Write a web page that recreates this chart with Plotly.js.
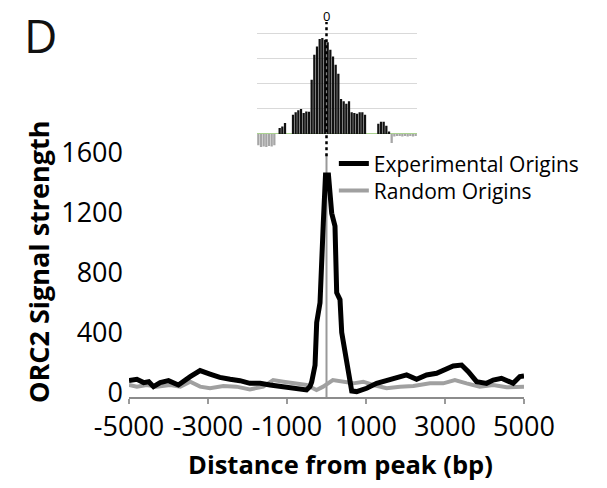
<!DOCTYPE html>
<html><head><meta charset="utf-8">
<script src="https://cdn.plot.ly/plotly-3.0.1.min.js"></script>
<style>body{margin:0;padding:0;background:#fff}#chart{width:607px;height:488px}</style>
</head><body><div id="chart"></div>
<script>
// Main chart: distance from peak (bp) and ORC2 signal
const expX = [-5000,-4800,-4630,-4500,-4380,-4210,-4000,-3750,-3450,-3200,-2950,-2700,-2440,-2190,-1940,-1680,-1430,-1090,-760,-506,-420,-375,-290,-248,-164,-121,-81,-25,50,132,215,258,342,385,511,638,763,1016,1270,1522,1775,2028,2281,2534,2787,3040,3208,3420,3590,3800,4052,4220,4430,4725,4895,5000];
const expY = [110,118,96,102,69,96,109,80,136,176,153,131,118,109,91,91,80,69,51,47,69,100,212,497,629,1007,1159,1480,1480,1225,1139,695,649,430,212,40,36,58,91,109,131,147,118,147,158,185,207,213,169,102,91,113,125,91,136,140];
const rndX = [-5000,-4800,-4550,-4300,-3960,-3700,-3450,-3200,-2950,-2610,-2280,-1940,-1600,-1350,-1090,-760,-506,-253,-85,160,425,680,930,1185,1522,1860,2200,2620,2956,3250,3545,3880,4220,4560,5000];
const rndY = [80,69,80,69,80,69,102,69,58,73,69,51,69,113,102,91,80,47,69,113,102,91,102,80,58,69,73,91,91,113,91,69,80,65,69];
const xTicks = [-5000,-3000,-1000,1000,3000,5000];
const yTicks = [0,400,800,1200,1600];
// Inset bar chart values
const insetVals = [-0.45,-0.52,-0.5,-0.52,-0.48,-0.5,-0.45,0,0.24,0.3,0.44,0,0,0.77,0.87,0.95,1.0,0.84,0.9,0.89,2.17,3.17,3.5,3.8,3.84,3.77,3.67,3.37,3.1,2.77,2.41,1.4,1.31,1.21,1.31,0.87,0.84,0.81,0.87,0.87,0.77,0,0,0,0,0.41,0.49,0.49,0.33,0.1,-0.36,-0.1,-0.08,-0.08,-0.1,-0.08,-0.1,-0.08,-0.1,-0.08];
const insetIdx = insetVals.map((v,i)=>i);
const insetColors = insetVals.map(v => v < 0 ? '#a6a6a6' : '#111111');

const F = '"Open Sans", "Noto Sans", sans-serif';
const traces = [
  {x: rndX, y: rndY, type:'scatter', mode:'lines', name:'Random Origins', legend:'legend2',
   line:{color:'#a0a0a0', width:4}, xaxis:'x', yaxis:'y'},
  {x: expX, y: expY, type:'scatter', mode:'lines', name:'Experimental Origins', legend:'legend',
   line:{color:'#000000', width:5}, xaxis:'x', yaxis:'y'},
  {x: insetIdx, y: insetVals, type:'bar', showlegend:false,
   marker:{color: insetColors, line:{width:0}}, xaxis:'x2', yaxis:'y2', hoverinfo:'skip'}
];
const legStyle = {xanchor:'left', yanchor:'top', bgcolor:'rgba(0,0,0,0)', font:{size:21, family:F}, itemwidth:30};
const layout = {
  width:607, height:488,
  margin:{l:0,r:0,t:0,b:0},
  paper_bgcolor:'#fff', plot_bgcolor:'rgba(0,0,0,0)',
  font:{family:F, color:'#000'},
  showlegend:true,
  legend:Object.assign({x:0.55, y:0.706}, legStyle),
  legend2:Object.assign({x:0.55, y:0.706-27/488}, legStyle),
  xaxis:{domain:[0.21252,0.86326], range:[-5000,5000], tickvals:xTicks, ticktext:xTicks.map(String),
         showgrid:false, zeroline:false, showline:true, linecolor:'#8c8c8c', linewidth:2.5,
         ticks:'outside', ticklen:5, tickwidth:2, tickcolor:'#9a9a9a', tickangle:0,
         tickfont:{size:27, family:F}, anchor:'y', ticklabelstandoff:-1},
  yaxis:{domain:[0.18648,0.68443], range:[0,1620], tickvals:yTicks, ticktext:yTicks.map(String),
         showgrid:false, zeroline:false, showline:false, ticks:'', tickfont:{size:27, family:F},
         anchor:'x', ticklabelstandoff:5, ticklabelshift:-4},
  xaxis2:{domain:[0.4234,0.6870], range:[-0.5,59.5], showticklabels:false, showgrid:false,
          zeroline:false, showline:false, ticks:'', anchor:'y2'},
  yaxis2:{domain:[0.67418,0.98156], range:[-1,5], dtick:1, showticklabels:false, showgrid:true,
          gridcolor:'#d9d9d9', gridwidth:1, zeroline:true, zerolinecolor:'#a9d18e', zerolinewidth:1,
          ticks:'', anchor:'x2'},
  bargap:0.15,
  shapes:[
    {type:'line', xref:'x', yref:'y', x0:0, x1:0, y0:0, y1:1620, line:{color:'#999999', width:2}, layer:'below'},
    {type:'line', xref:'x', yref:'paper', x0:0, x1:0, y0:0.68, y1:0.955, line:{color:'#000', width:2.5, dash:'dot'}}
  ],
  annotations:[
    {text:'D', xref:'paper', yref:'paper', x:22/607, y:1-2/488, xanchor:'left', yanchor:'top', showarrow:false,
     font:{size:46, family:F, color:'#111'}},
    {text:'0', xref:'x', yref:'paper', x:0, y:1-16/488, xanchor:'center', yanchor:'middle', showarrow:false,
     font:{size:13, family:F, color:'#000'}},
    {text:'<b>Distance from peak (bp)</b>', xref:'paper', yref:'paper', x:340/607, y:1-464/488,
     xanchor:'center', yanchor:'middle', showarrow:false, font:{size:25.5, family:F, color:'#000'}},
    {text:'<b>ORC2 Signal strength</b>', xref:'paper', yref:'paper', x:38/607, y:1-262/488,
     xanchor:'center', yanchor:'middle', textangle:-90, showarrow:false, font:{size:27, family:F, color:'#000'}}
  ]
};
Plotly.newPlot('chart', traces, layout, {displayModeBar:false, staticPlot:true});
</script></body></html>
